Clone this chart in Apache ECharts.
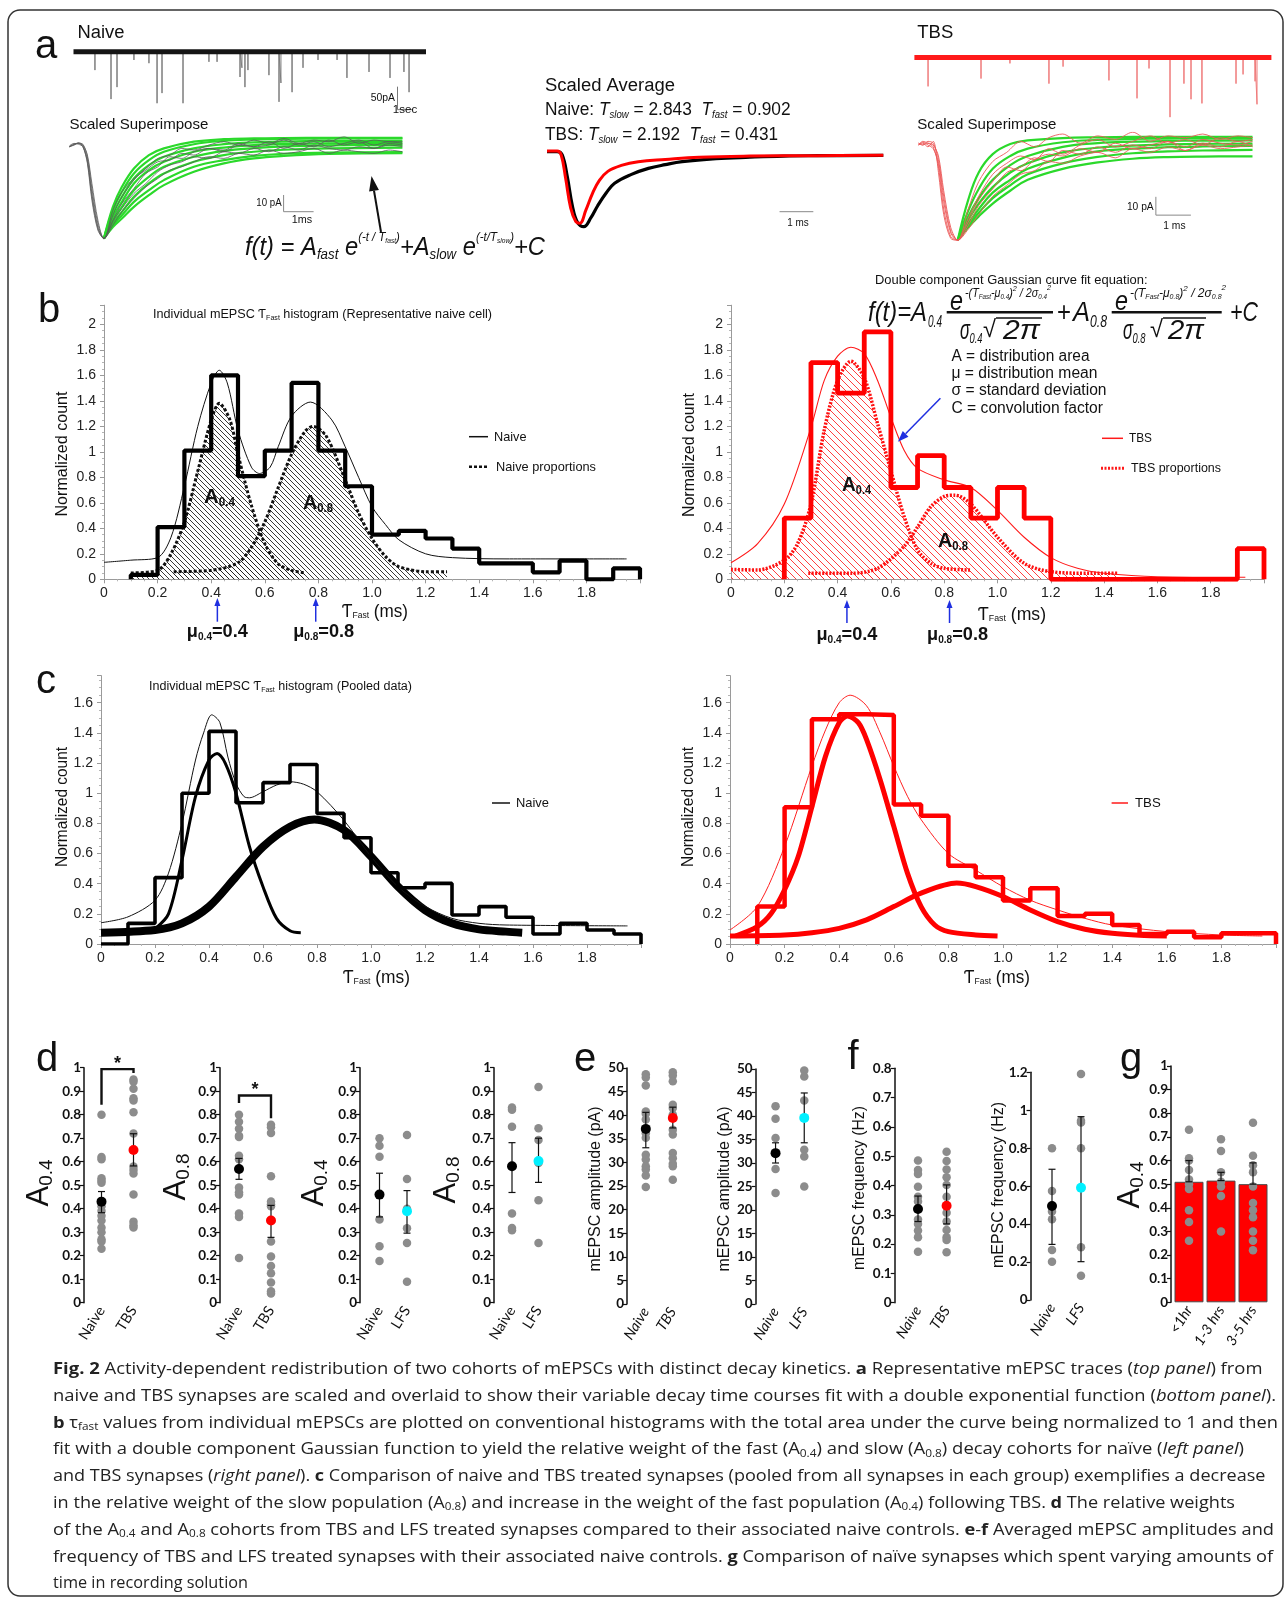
<!DOCTYPE html>
<html><head><meta charset="utf-8"><title>Fig. 2</title>
<script src="https://cdn.jsdelivr.net/npm/echarts@6/dist/echarts.min.js"></script>
<style>html,body{margin:0;padding:0;background:#fff;}#chart{width:1287px;height:1600px;}</style>
</head><body><div id="chart"></div>
<script>
// ======================= DATA =======================
// Panel a – spontaneous traces: event times (s) and amplitudes (pA)
const NAIVE_SPIKE_T = [1.43,2.5,2.9,4.03,5.03,5.57,5.9,7.3,9.03,9.57,11.1,11.23,11.43,11.63,13.03,13.7,13.83,14.57,15.3,16.3,17.57,18.23,19.7,21.1,22.03,22.37];
const NAIVE_SPIKE_A = [40,103,77,18,25,112,90,112,22,22,55,35,77,40,51,109,68,88,35,18,18,57,44,57,44,88];
const TBS_SPIKE_T = [0.91,4.44,6.37,8.97,9.91,12.97,14.84,15.64,17.04,17.97,18.44,19.17,21.44,21.91,22.71,22.84];
const TBS_SPIKE_A = [63,46,13,57,20,50,89,24,130,57,91,100,57,37,52,102];
// Panel a – scaled superimposed events (ms, pA)
const SUP_N_T = [-1.15,-1.0,-0.85,-0.7,-0.55,-0.4,-0.2,0,0.3,0.6,1,1.4,1.8,2.2,2.6,3,3.5,4,4.5,5,5.5,6,6.5,7,7.5,8,8.5,9,9.5,9.95];
const SUP_N_RAW = [
 [0,1.5,2,0.5,-8,-28,-48,-55,-41,-30,-20,-13,-7,-5,-1,-2,1,3,1,4,2,5,2,4,3,6,2,4,3,3],
 [0,1,2.5,1,-5,-22,-44,-55,-44,-34,-25,-16,-12,-6,-7,-3,-1,-3,1,0,3,-1,2,0,4,1,3,-1,2,1],
 [0.5,2,1.5,0,-10,-32,-50,-55,-38,-27,-19,-14,-9,-8,-4,-5,-1,-2,2,0,1,4,1,3,0,2,4,1,3,2],
 [0,1,2,1.5,-6,-25,-46,-55,-45,-37,-28,-22,-15,-11,-9,-6,-7,-3,-4,-1,-3,0,-2,1,-1,-2,0,-1,1,0],
 [0,1.5,2,0,-9,-30,-49,-55,-47,-39,-31,-24,-19,-14,-12,-9,-6,-7,-4,-5,-2,-4,-3,-1,-4,-2,-3,-4,-2,-3]];
const FIT_N_T = [0,0.3,0.6,1,1.5,2,3,4,5,6,7.5,9.95];
const FIT_N = [
 [-55,-36,-24,-13,-5,-1,3,4.5,5,5.2,5.3,5.3],
 [-55,-38,-27,-16,-8,-3,1.5,3.5,4.3,4.7,4.9,5],
 [-55,-40,-30,-19,-11,-6,-1,1.5,2.6,3.1,3.4,3.5],
 [-55,-42,-33,-22,-14,-9,-3,-0.5,1,1.6,2,2.2],
 [-55,-44,-36,-26,-18,-12,-6,-2.5,-0.8,0.2,0.8,1],
 [-55,-46,-39,-30,-22,-16,-9,-5,-3,-1.8,-1,-0.6],
 [-55,-47,-41,-33,-26,-20,-12,-8,-5.5,-4.2,-3.5,-3.2],
 [-55,-48,-43,-36,-29,-23,-15,-10,-7,-5.5,-4.3,-3.8]];
const SUP_T_T = [-1.12,-1.0,-0.85,-0.7,-0.55,-0.4,-0.2,0,0.3,0.6,1,1.4,1.8,2.2,2.6,3,3.5,4,4.5,5,5.5,6,6.5,7,7.5,8,8.42];
const SUP_T_RAW = [
 [0,2,1,-1,-12,-35,-50,-52,-35,-20,-9,-4,2,-1,4,6,1,5,3,7,2,5,4,6,3,5,4],
 [1,0,2,1,-8,-28,-47,-52,-40,-28,-16,-10,-6,-8,-2,-5,0,3,-1,2,5,1,3,0,4,2,3],
 [0,1,-1,2,-15,-38,-51,-52,-44,-33,-24,-15,-12,-7,-9,-3,-5,-1,-4,0,-2,2,-1,3,1,0,2],
 [0,1.5,0,-2,-10,-31,-48,-52,-46,-38,-28,-22,-16,-14,-9,-10,-6,-4,-7,-2,-4,-1,-3,0,-2,-1,0],
 [1,0,1,0,-6,-25,-45,-52,-42,-30,-20,-12,-14,-8,-5,-6,-2,-4,1,-2,0,2,-3,1,-1,2,-1]];
const FIT_T_T = [0,0.3,0.6,1,1.5,2,3,4,5,6,7,8.42];
const FIT_T = [
 [-52,-30,-15,-5,0.5,2.5,3.8,4.2,4.4,4.5,4.5,4.5],
 [-52,-36,-24,-13,-6,-2,1.5,2.8,3.3,3.5,3.6,3.6],
 [-52,-39,-29,-19,-11,-6,-1,1,1.8,2.2,2.4,2.5],
 [-52,-41,-32,-23,-15,-10,-4,-1.5,-0.3,0.3,0.6,0.8],
 [-52,-43,-35,-26,-19,-13,-7,-3.5,-2,-1.2,-0.8,-0.5],
 [-52,-44,-37,-29,-22,-16,-10,-6.5,-4.5,-3.5,-3,-2.7],
 [-52,-45,-39,-32,-25,-19,-13,-9.5,-7.5,-6.6,-6.3,-6.2]];
// Panel a – scaled averages (ms, normalised)
const AVG_BLACK_T = [0,0.3,0.45,0.6,0.75,0.9,1.09,1.3,1.5,1.75,2.0,2.5,3,3.5,4,5,6,7,8,9.95];
const AVG_BLACK_V = [0.005,0.005,-0.04,-0.33,-0.72,-0.94,-1,-0.88,-0.72,-0.55,-0.42,-0.3,-0.22,-0.17,-0.13,-0.09,-0.07,-0.055,-0.05,-0.045];
const AVG_RED_T = [0,0.3,0.42,0.55,0.7,0.85,0.97,1.15,1.35,1.55,1.8,2.2,2.7,3.5,4.5,6,8,9.95];
const AVG_RED_V = [0.012,0.012,-0.04,-0.35,-0.75,-0.93,-0.955,-0.78,-0.55,-0.38,-0.26,-0.18,-0.13,-0.1,-0.07,-0.055,-0.05,-0.045];
// scale bars [x, y of corner-top] in data units
const SB_NAIVE_TRACE = [21.6, -76];   // 50 pA, 1 s
const SB_NAIVE_SUP = [5.99, -28.9];   // 10 pA, 1 ms
const SB_AVG = [6.88, -0.8];          // 1 ms
const SB_TBS_SUP = [5.66, -28.3];     // 10 pA, 1 ms

// Panel b/c – histograms (bin width 0.1 ms)
const BIN_W = 0.1;
const B_NAIVE_START = 0.1;
const B_NAIVE_HIST = [0.034,0.41,1.01,1.60,0.81,1.01,1.54,1.01,0.73,0.35,0.38,0.32,0.24,0.125,0.125,0.055,0.146,0,0.086];
const B_TBS_START = 0.2;
const B_TBS_HIST = [0.48,1.70,1.46,1.94,0.72,0.97,0.72,0.48,0.72,0.48,0,0,0,0,0,0,0,0.24];
const C_NAIVE_START = 0;
const C_NAIVE_HIST = [0,0.137,0.44,1.0,1.41,0.937,1.07,1.19,0.866,0.705,0.473,0.373,0.402,0.192,0.248,0.177,0.066,0.137,0.093,0.066];
const C_TBS_START = 0.1;
const C_TBS_HIST = [0.248,0.907,1.49,1.523,1.519,0.925,0.851,0.519,0.443,0.288,0.37,0.186,0.2,0.126,0.067,0.082,0.044,0.071,0.071];
// Fitted curves [Tfast, normalised count]
const B_NAIVE_FIT = [[0,0.133],[0.1,0.15],[0.2,0.17],[0.25,0.33],[0.3,0.73],[0.35,1.2],[0.4,1.54],[0.43,1.64],[0.46,1.54],[0.5,1.17],[0.55,0.88],[0.58,0.83],[0.62,0.88],[0.65,1.04],[0.7,1.28],[0.77,1.39],[0.85,1.25],[0.9,1.04],[0.95,0.8],[1.0,0.57],[1.05,0.43],[1.1,0.31],[1.2,0.2],[1.3,0.17],[1.5,0.16],[1.95,0.16]];
const B_NAIVE_C04 = [[0.1,0.05],[0.2,0.07],[0.25,0.2],[0.3,0.45],[0.35,0.85],[0.4,1.25],[0.43,1.38],[0.47,1.25],[0.5,0.98],[0.55,0.58],[0.6,0.28],[0.65,0.12],[0.7,0.07],[0.75,0.05]];
const B_NAIVE_C08 = [[0.26,0.06],[0.4,0.07],[0.5,0.13],[0.55,0.25],[0.6,0.45],[0.65,0.72],[0.7,0.98],[0.75,1.16],[0.78,1.2],[0.83,1.12],[0.9,0.78],[0.95,0.52],[1.0,0.32],[1.05,0.18],[1.1,0.1],[1.2,0.06],[1.28,0.06]];
const B_TBS_FIT = [[0,0.13],[0.1,0.28],[0.2,0.59],[0.3,1.19],[0.35,1.56],[0.4,1.75],[0.45,1.82],[0.5,1.77],[0.55,1.56],[0.6,1.27],[0.65,1.01],[0.7,0.87],[0.8,0.78],[0.9,0.72],[1.0,0.54],[1.1,0.33],[1.2,0.17],[1.3,0.086],[1.4,0.047],[1.6,0.02],[1.93,0.016]];
const B_TBS_C04 = [[0,0.078],[0.1,0.073],[0.2,0.15],[0.25,0.28],[0.3,0.59],[0.35,1.17],[0.4,1.56],[0.45,1.71],[0.5,1.58],[0.55,1.22],[0.6,0.85],[0.65,0.49],[0.7,0.23],[0.75,0.125],[0.8,0.086],[0.9,0.073]];
const B_TBS_C08 = [[0.29,0.047],[0.45,0.047],[0.55,0.086],[0.65,0.26],[0.7,0.41],[0.75,0.57],[0.8,0.65],[0.84,0.66],[0.9,0.59],[1.0,0.33],[1.1,0.125],[1.2,0.06],[1.35,0.047],[1.45,0.047]];
const C_NAIVE_FIT = [[0,0.141],[0.1,0.18],[0.2,0.29],[0.25,0.47],[0.3,0.8],[0.35,1.22],[0.38,1.4],[0.41,1.52],[0.44,1.47],[0.47,1.24],[0.5,1.065],[0.53,0.977],[0.55,0.97],[0.6,1.01],[0.65,1.054],[0.7,1.076],[0.75,1.06],[0.8,1.01],[0.9,0.82],[1.0,0.58],[1.1,0.38],[1.2,0.25],[1.3,0.17],[1.4,0.137],[1.5,0.126],[1.95,0.12]];
const C_NAIVE_C04 = [[0.2,0.1],[0.25,0.2],[0.3,0.557],[0.35,0.977],[0.4,1.22],[0.43,1.264],[0.46,1.2],[0.5,1.0],[0.55,0.645],[0.6,0.38],[0.65,0.17],[0.7,0.088],[0.74,0.075]];
const C_NAIVE_C08 = [[0,0.075],[0.2,0.093],[0.3,0.137],[0.4,0.248],[0.5,0.446],[0.6,0.645],[0.7,0.778],[0.79,0.826],[0.9,0.756],[1.0,0.58],[1.1,0.38],[1.2,0.225],[1.3,0.137],[1.4,0.097],[1.5,0.082],[1.56,0.075]];
const C_TBS_FIT = [[0,0.093],[0.1,0.248],[0.2,0.647],[0.3,1.18],[0.35,1.42],[0.4,1.6],[0.44,1.65],[0.5,1.58],[0.55,1.4],[0.6,1.18],[0.65,0.98],[0.7,0.825],[0.8,0.6],[0.9,0.49],[1.0,0.38],[1.1,0.29],[1.2,0.226],[1.3,0.17],[1.4,0.126],[1.6,0.082],[1.8,0.06],[1.95,0.053]];
const C_TBS_C04 = [[0.02,0.053],[0.1,0.115],[0.15,0.2],[0.2,0.36],[0.25,0.58],[0.3,0.91],[0.35,1.246],[0.4,1.468],[0.43,1.512],[0.47,1.468],[0.5,1.357],[0.55,1.09],[0.6,0.78],[0.65,0.47],[0.7,0.248],[0.75,0.126],[0.8,0.082],[0.9,0.06],[0.98,0.053]];
const C_TBS_C08 = [[0,0.053],[0.2,0.06],[0.3,0.075],[0.4,0.104],[0.5,0.16],[0.6,0.248],[0.7,0.337],[0.83,0.404],[0.9,0.381],[1.0,0.315],[1.1,0.226],[1.2,0.149],[1.3,0.098],[1.4,0.071],[1.5,0.058],[1.6,0.053]];
const MU_B_NAIVE = [0.423, 0.79];
const MU_B_TBS = [0.435, 0.82];

// Panels d-g
const CATS_TBS = ['Naive','TBS'];
const CATS_LFS = ['Naive','LFS'];
const D1_NAIVE = [0.80,0.62,0.61,0.53,0.52,0.51,0.41,0.39,0.37,0.35,0.32,0.30,0.27,0.26,0.23];
const D1_TBS = [0.95,0.94,0.91,0.87,0.86,0.81,0.72,0.58,0.565,0.55,0.46,0.345,0.33,0.32];
const D1_MEAN = [0.43,0.65];  const D1_ERR = [[0.383,0.473],[0.582,0.719]];
const D1_BRACKET = [0.842,0.994,0.977];
const D2_NAIVE = [0.80,0.77,0.74,0.71,0.705,0.625,0.61,0.49,0.47,0.46,0.38,0.365,0.19];
const D2_TBS = [0.757,0.747,0.722,0.538,0.431,0.419,0.41,0.26,0.197,0.156,0.125,0.086,0.049,0.039];
const D2_MEAN = [0.569,0.35]; const D2_ERR = [[0.525,0.614],[0.278,0.414]];
const D2_BRACKET = [0.85,0.882,0.785];
const D3_NAIVE = [0.70,0.668,0.621,0.354,0.24,0.177];
const D3_LFS = [0.714,0.526,0.40,0.317,0.254,0.089];
const D3_MEAN = [0.46,0.389]; const D3_ERR = [[0.365,0.551],[0.296,0.477]];
const D4_NAIVE = [0.831,0.821,0.749,0.38,0.318,0.308];
const D4_LFS = [0.918,0.742,0.692,0.595,0.436,0.254];
const D4_MEAN = [0.581,0.603]; const D4_ERR = [[0.469,0.681],[0.512,0.70]];
const E1_NAIVE = [48.7,48.0,46.3,40.8,40.3,39.1,36.2,35.2,31.6,30.6,29.2,28.5,27.2,24.8];
const E1_TBS = [49.1,48.4,47.2,42.2,41.5,40.1,36.9,35.9,32.0,30.9,29.7,29.2,26.3];
const E1_MEAN = [37.1,39.4]; const E1_ERR = [[33.1,40.6],[37.3,41.7]];
const E2_NAIVE = [42.1,39.4,35.3,28.7,23.6];
const E2_LFS = [49.7,48.4,43.3,32.8,31.4,25.0];
const E2_MEAN = [32.1,39.6]; const E2_ERR = [[30.0,34.3],[34.3,44.9]];
const F1_NAIVE = [0.485,0.453,0.439,0.396,0.362,0.345,0.32,0.284,0.269,0.246,0.223,0.174];
const F1_TBS = [0.515,0.484,0.455,0.428,0.402,0.362,0.307,0.277,0.248,0.223,0.214,0.172];
const F1_MEAN = [0.32,0.331]; const F1_ERR = [[0.277,0.364],[0.269,0.402]];
const F2_NAIVE = [0.80,0.575,0.466,0.425,0.264,0.202];
const F2_LFS = [1.191,0.945,0.935,0.80,0.278,0.128];
const F2_MEAN = [0.495,0.592]; const F2_ERR = [[0.293,0.689],[0.202,0.966]];
const G_CATS = ['<1hr','1-3 hrs','3-5 hrs'];
const G_MEAN = [0.51,0.515,0.50];
const G_ERR_HI = [0.60,0.55,0.59];
const G_DOTS = [[0.73,0.61,0.60,0.56,0.52,0.50,0.48,0.39,0.34,0.26],[0.69,0.64,0.55,0.51,0.49,0.45,0.30],[0.76,0.62,0.58,0.55,0.49,0.42,0.39,0.36,0.30,0.26,0.22]];

// Caption
const CAPTION = [
 [['Fig. 2','b'],[' Activity-dependent redistribution of two cohorts of mEPSCs with distinct decay kinetics. ','n'],['a','b'],[' Representative mEPSC traces (','n'],['top panel','i'],[') from','n']],
 [['naive and TBS synapses are scaled and overlaid to show their variable decay time courses fit with a double exponential function (','n'],['bottom panel','i'],[').','n']],
 [['b','b'],[' τ','n'],['fast','s'],[' values from individual mEPSCs are plotted on conventional histograms with the total area under the curve being normalized to 1 and then','n']],
 [['fit with a double component Gaussian function to yield the relative weight of the fast (A','n'],['0.4','s'],[') and slow (A','n'],['0.8','s'],[') decay cohorts for naïve (','n'],['left panel','i'],[')','n']],
 [['and TBS synapses (','n'],['right panel','i'],['). ','n'],['c','b'],[' Comparison of naive and TBS treated synapses (pooled from all synapses in each group) exemplifies a decrease','n']],
 [['in the relative weight of the slow population (A','n'],['0.8','s'],[') and increase in the weight of the fast population (A','n'],['0.4','s'],[') following TBS. ','n'],['d','b'],[' The relative weights','n']],
 [['of the A','n'],['0.4','s'],[' and A','n'],['0.8','s'],[' cohorts from TBS and LFS treated synapses compared to their associated naive controls. ','n'],['e','b'],['-','n'],['f','b'],[' Averaged mEPSC amplitudes and','n']],
 [['frequency of TBS and LFS treated synapses with their associated naive controls. ','n'],['g','b'],[' Comparison of naïve synapses which spent varying amounts of','n']],
 [['time in recording solution','n']]
];

// ======================= HELPERS =======================
const FONT = '"Liberation Sans", Arial, sans-serif';
const LATO = 'Lato, "Liberation Sans", sans-serif';
const CAPF = '"Open Sans", "Liberation Sans", sans-serif';
const mctx = document.createElement('canvas').getContext('2d');
function fstr(size, o) { return (o.i ? 'italic ' : '') + (o.b ? 'bold ' : '') + size + 'px ' + (o.f || FONT); }
function mw(text, size, o) { mctx.font = fstr(size, o || {}); return mctx.measureText(text).width; }
const zip = (xs, ys) => xs.map((x, k) => [x, ys[k]]);

const grids = [], xAxes = [], yAxes = [], series = [];
function addGrid(l, t, w, h, xa, ya) {
  const gi = grids.length;
  grids.push({left: l, top: t, width: w, height: h, containLabel: false, outerBoundsMode: 'none'});
  xa.gridIndex = gi; ya.gridIndex = gi; xAxes.push(xa); yAxes.push(ya); return gi;
}
function hid(min, max) { return {type: 'value', min, max, show: false, splitLine: {show: false}}; }
function line(gi, data, color, width, extra) {
  series.push(Object.assign({type: 'line', xAxisIndex: gi, yAxisIndex: gi, data, symbol: 'none', showSymbol: false,
    lineStyle: {color, width}, silent: true, animation: false, z: 3}, extra || {}));
}
function spikes(ts, as) { const d = []; ts.forEach((t, k) => { d.push([t, 0], [t, -as[k]], [t, 0]); }); return d; }
function histPts(start, vals) {
  const p = [[start, 0]];
  vals.forEach((v, k) => { p.push([start + k * BIN_W, v], [start + (k + 1) * BIN_W, v]); });
  p.push([start + vals.length * BIN_W, 0]); return p;
}
function hatch(color, s, lw) {
  const c = document.createElement('canvas'); c.width = s; c.height = s;
  const x = c.getContext('2d'); x.strokeStyle = color; x.lineWidth = lw; x.beginPath();
  [-s, 0, s].forEach(k => { x.moveTo(k, 0); x.lineTo(k + s, s); });
  x.stroke(); return c;
}
function axStyle() {
  return {axisLine: {show: true, lineStyle: {color: '#9a9a9a', width: 1}},
    axisTick: {show: true, length: 4, lineStyle: {color: '#9a9a9a'}},
    minorTick: {show: true, splitNumber: 4, length: 2, lineStyle: {color: '#b5b5b5'}},
    splitLine: {show: false}, minorSplitLine: {show: false}};
}
function histGrid(l, t, w, h, ymax) {
  const xa = Object.assign({type: 'value', min: 0, max: 2, interval: 0.2,
    axisLabel: {fontFamily: FONT, fontSize: 14, color: '#222', margin: 7,
      formatter: v => Math.abs(v) < 1e-9 ? '0' : (v > 1.95 ? '' : v.toFixed(1))}}, axStyle());
  const ya = Object.assign({type: 'value', min: 0, max: ymax, interval: 0.2,
    axisLabel: {fontFamily: FONT, fontSize: 14, color: '#222', margin: 8,
      formatter: v => Math.abs(v * 5 - Math.round(v * 5)) > 1e-6 ? '' : String(+v.toFixed(1))}}, axStyle());
  return addGrid(l, t, w, h, xa, ya);
}
const DOT = '#8c8c8c';
function errSeries(gi, errs, capHalf) {
  series.push({type: 'custom', xAxisIndex: gi, yAxisIndex: gi, silent: true, animation: false, z: 5,
    data: errs.map((e, i) => [i, e[0], e[1]]),
    renderItem: (params, api) => {
      const a = api.coord([api.value(0), api.value(1)]), b = api.coord([api.value(0), api.value(2)]);
      const st = {stroke: '#111', lineWidth: 1.2};
      return {type: 'group', children: [
        {type: 'line', shape: {x1: a[0], y1: a[1], x2: b[0], y2: b[1]}, style: st},
        {type: 'line', shape: {x1: a[0] - capHalf, y1: a[1], x2: a[0] + capHalf, y2: a[1]}, style: st},
        {type: 'line', shape: {x1: b[0] - capHalf, y1: b[1], x2: b[0] + capHalf, y2: b[1]}, style: st}]};
    }});
}
function dotPanel(c) {
  const gi = addGrid(c.left, c.top, c.width, c.height,
    {type: 'category', data: c.cats, boundaryGap: true, axisLine: {show: false}, axisTick: {show: false}, splitLine: {show: false},
     axisLabel: {rotate: 58, interval: 0, fontFamily: LATO, fontSize: 14.5, fontStyle: c.italic ? 'italic' : 'normal', color: '#111', margin: 5}},
    {type: 'value', min: 0, max: c.ymax, interval: c.interval, offset: c.offset,
     axisLine: {show: true, lineStyle: {color: '#111', width: 1.5}}, axisTick: {show: true, length: 4, lineStyle: {color: '#111', width: 1.2}},
     splitLine: {show: false}, axisLabel: {fontFamily: LATO, fontWeight: 'bold', fontSize: 13.5, color: '#111', margin: 3,
       formatter: v => String(+v.toFixed(2))}});
  if (c.bars) series.push({type: 'bar', xAxisIndex: gi, yAxisIndex: gi, data: c.bars, barWidth: c.barWidth, silent: true, animation: false, z: 2,
    itemStyle: {color: '#ff0000', borderColor: '#4a4a4a', borderWidth: 1}});
  c.groups.forEach((g, i) => series.push({type: 'scatter', xAxisIndex: gi, yAxisIndex: gi, data: g.map(v => [i, v]),
    symbolSize: 8.5, itemStyle: {color: DOT, opacity: 1}, silent: true, animation: false, z: 3}));
  errSeries(gi, c.errs, 3.5);
  if (c.means) c.means.forEach((m, i) => series.push({type: 'scatter', xAxisIndex: gi, yAxisIndex: gi, data: [[i, m]],
    symbolSize: 10, itemStyle: {color: c.meanColors[i], opacity: 1}, silent: true, animation: false, z: 6}));
  if (c.bracket) {
    const br = c.bracket;
    series.push({type: 'custom', xAxisIndex: gi, yAxisIndex: gi, silent: true, animation: false, z: 6, data: [[0, br[1]]],
      renderItem: (params, api) => {
        const a = api.coord([0, br[0]]), b = api.coord([0, br[1]]), cc = api.coord([1, br[1]]), d = api.coord([1, br[2]]);
        return {type: 'group', children: [
          {type: 'polyline', shape: {points: [a, b, cc, d]}, style: {stroke: '#111', lineWidth: 2.4, fill: 'none'}},
          {type: 'text', x: (b[0] + cc[0]) / 2, y: b[1] - 5, style: {text: '*', font: 'bold 18px ' + FONT, fill: '#111', textAlign: 'center', textVerticalAlign: 'middle'}}]};
      }});
  }
  return gi;
}

// ======================= PANEL a =======================
const gA1 = addGrid(73.5, 44.8, 352.5, 66.7, hid(0, 23.5), hid(-130, 15));
line(gA1, spikes(NAIVE_SPIKE_T, NAIVE_SPIKE_A), '#7d7d7d', 1);
line(gA1, [[0, 0], [23.5, 0]], '#151515', 5, {z: 4});
line(gA1, [[SB_NAIVE_TRACE[0], SB_NAIVE_TRACE[1]], [SB_NAIVE_TRACE[0], SB_NAIVE_TRACE[1] - 50], [SB_NAIVE_TRACE[0] + 1, SB_NAIVE_TRACE[1] - 50]], '#777', 1);
const gA2 = addGrid(914.4, 50.5, 357, 66.7, hid(0, 23.8), hid(-130, 15));
line(gA2, spikes(TBS_SPIKE_T, TBS_SPIKE_A), '#ef7a7a', 1);
line(gA2, [[0, 0], [23.8, 0]], '#ff1a1a', 5, {z: 4});
const gA3 = addGrid(69.4, 136.7, 333, 106.9, hid(-1.15, 9.95), hid(-58, 6));
FIT_N.forEach(f => line(gA3, zip(FIT_N_T, f), '#2bd92b', 2.2, {smooth: 0.4, z: 3}));
SUP_N_RAW.forEach(r => line(gA3, zip(SUP_N_T, r), '#5a5a5a', 0.8, {smooth: 0.3, z: 4}));
line(gA3, [[SB_NAIVE_SUP[0], SB_NAIVE_SUP[1]], [SB_NAIVE_SUP[0], SB_NAIVE_SUP[1] - 10], [SB_NAIVE_SUP[0] + 1, SB_NAIVE_SUP[1] - 10]], '#888', 1);
const gA4 = addGrid(547, 144.5, 336.3, 89.6, hid(0, 9.95), hid(-1.1, 0.1));
line(gA4, zip(AVG_BLACK_T, AVG_BLACK_V), '#000', 3.2, {smooth: 0.4});
line(gA4, zip(AVG_RED_T, AVG_RED_V), '#ff0000', 3, {smooth: 0.4, z: 4});
line(gA4, [[SB_AVG[0], SB_AVG[1]], [SB_AVG[0] + 1, SB_AVG[1]]], '#888', 1);
const gA5 = addGrid(918.5, 132.2, 334, 113.5, hid(-1.12, 8.42), hid(-55, 7));
FIT_T.forEach(f => line(gA5, zip(FIT_T_T, f), '#2bd92b', 2.2, {smooth: 0.4, z: 3}));
SUP_T_RAW.forEach(r => line(gA5, zip(SUP_T_T, r), '#ec5a5a', 0.9, {smooth: 0.3, z: 4}));
line(gA5, [[SB_TBS_SUP[0], SB_TBS_SUP[1]], [SB_TBS_SUP[0], SB_TBS_SUP[1] - 10], [SB_TBS_SUP[0] + 1, SB_TBS_SUP[1] - 10]], '#888', 1);

// ======================= PANEL b =======================
const HATCH_K = {image: hatch('#222', 5, 0.9), repeat: 'repeat'};
const HATCH_R = {image: hatch('#ff2a2a', 7, 0.9), repeat: 'repeat'};
const gB1 = histGrid(104, 305.2, 536, 274.1, 2.15);
line(gB1, B_NAIVE_C04, '#111', 3, {smooth: 0.3, lineStyle: {color: '#111', width: 3, type: [3, 2]}, areaStyle: {color: HATCH_K, opacity: 1, origin: 'start'}, z: 2});
line(gB1, B_NAIVE_C08, '#111', 3, {smooth: 0.3, lineStyle: {color: '#111', width: 3, type: [3, 2]}, areaStyle: {color: HATCH_K, opacity: 1, origin: 'start'}, z: 2});
line(gB1, B_NAIVE_FIT, '#111', 1, {smooth: 0.3, z: 3});
line(gB1, histPts(B_NAIVE_START, B_NAIVE_HIST), '#000', 4.2, {z: 4});
const gB2 = histGrid(731, 305.2, 533, 274.1, 2.15);
line(gB2, B_TBS_C04, '#f00', 3, {smooth: 0.3, lineStyle: {color: '#ff1010', width: 3.5, type: [2, 1.5]}, areaStyle: {color: HATCH_R, opacity: 1, origin: 'start'}, z: 2});
line(gB2, B_TBS_C08, '#f00', 3, {smooth: 0.3, lineStyle: {color: '#ff1010', width: 3.5, type: [2, 1.5]}, areaStyle: {color: HATCH_R, opacity: 1, origin: 'start'}, z: 2});
line(gB2, B_TBS_FIT, '#ff1a1a', 1.1, {smooth: 0.3, z: 3});
line(gB2, histPts(B_TBS_START, B_TBS_HIST), '#ff0000', 4.8, {z: 4});

// ======================= PANEL c =======================
const gC1 = histGrid(101, 675.6, 540, 268.4, 1.78);
line(gC1, C_NAIVE_C08, '#000', 8, {smooth: 0.3, z: 2});
line(gC1, C_NAIVE_C04, '#000', 3, {smooth: 0.3, z: 2});
line(gC1, C_NAIVE_FIT, '#111', 1, {smooth: 0.3, z: 3});
line(gC1, histPts(C_NAIVE_START, C_NAIVE_HIST), '#000', 3.6, {z: 4});
const gC2 = histGrid(730, 675.6, 546, 268.4, 1.78);
line(gC2, C_TBS_C08, '#ff0000', 5, {smooth: 0.3, z: 2});
line(gC2, C_TBS_C04, '#ff0000', 5, {smooth: 0.3, z: 2});
line(gC2, C_TBS_FIT, '#ff2020', 1, {smooth: 0.3, z: 3});
line(gC2, histPts(C_TBS_START, C_TBS_HIST), '#ff0000', 4.5, {z: 4});

// ======================= PANELS d-g =======================
const BLK = '#000', RED = '#ff0000', CYAN = '#00f0ff';
dotPanel({left: 85.5, top: 1067.7, width: 64, height: 235, offset: 1.5, cats: CATS_TBS, ymax: 1, interval: 0.1, groups: [D1_NAIVE, D1_TBS], means: D1_MEAN, errs: D1_ERR, meanColors: [BLK, RED], bracket: D1_BRACKET});
dotPanel({left: 223, top: 1067.7, width: 64, height: 235, offset: 3, cats: CATS_TBS, ymax: 1, interval: 0.1, groups: [D2_NAIVE, D2_TBS], means: D2_MEAN, errs: D2_ERR, meanColors: [BLK, RED], bracket: D2_BRACKET});
dotPanel({left: 365.75, top: 1067.7, width: 55, height: 235, offset: 5.75, cats: CATS_LFS, ymax: 1, interval: 0.1, groups: [D3_NAIVE, D3_LFS], means: D3_MEAN, errs: D3_ERR, meanColors: [BLK, CYAN]});
dotPanel({left: 498.75, top: 1067.7, width: 53, height: 235, offset: 4.75, cats: CATS_LFS, ymax: 1, interval: 0.1, groups: [D4_NAIVE, D4_LFS], means: D4_MEAN, errs: D4_ERR, meanColors: [BLK, CYAN]});
dotPanel({left: 632.3, top: 1068, width: 54, height: 236, offset: 5.3, cats: CATS_TBS, ymax: 50, interval: 5, italic: true, groups: [E1_NAIVE, E1_TBS], means: E1_MEAN, errs: E1_ERR, meanColors: [BLK, RED]});
dotPanel({left: 761.2, top: 1069, width: 57.4, height: 235, offset: 5.6, cats: CATS_LFS, ymax: 50, interval: 5, italic: true, groups: [E2_NAIVE, E2_LFS], means: E2_MEAN, errs: E2_ERR, meanColors: [BLK, CYAN]});
dotPanel({left: 903.7, top: 1068.3, width: 57.2, height: 234.4, offset: 9, cats: CATS_TBS, ymax: 0.8, interval: 0.1, italic: true, groups: [F1_NAIVE, F1_TBS], means: F1_MEAN, errs: F1_ERR, meanColors: [BLK, RED]});
dotPanel({left: 1037.5, top: 1072.3, width: 58, height: 227.7, offset: 7, cats: CATS_LFS, ymax: 1.2, interval: 0.2, italic: true, groups: [F2_NAIVE, F2_LFS], means: F2_MEAN, errs: F2_ERR, meanColors: [BLK, CYAN]});
dotPanel({left: 1173, top: 1066, width: 96, height: 236.3, offset: 2, cats: G_CATS, ymax: 1, interval: 0.1, italic: true, groups: G_DOTS, errs: G_MEAN.map((m, i) => [m, G_ERR_HI[i]]), bars: G_MEAN, barWidth: 29});

// ======================= RENDER =======================
const chart = echarts.init(document.getElementById('chart'), null, {renderer: 'canvas'});
chart.setOption({animation: false, textStyle: {fontFamily: FONT}, grid: grids, xAxis: xAxes, yAxis: yAxes, series: series});

// ---- annotations (text, arrows, legends) ----
const G = [];
function T(x, y, text, size, o) {
  o = o || {}; const sx = o.w ? o.w / mw(text, size, o) : (o.sx || 1);
  G.push({type: 'text', x, y, rotation: o.rot || 0, scaleX: sx, z: 100, silent: true,
    style: {text, font: fstr(size, o), fill: o.fill || '#111', textAlign: o.align || 'left', textVerticalAlign: 'middle'}});
}
function S(x, y, parts, o) {
  o = o || {};
  const ws = parts.map(p => mw(p[0], p[1], Object.assign({f: o.f}, p[2] || {})));
  const total = ws.reduce((a, b) => a + b, 0);
  const sx = o.w ? o.w / total : (o.sx || 1);
  let cx = o.align === 'center' ? -total / 2 : (o.align === 'right' ? -total : 0);
  const children = parts.map((p, k) => {
    const po = Object.assign({f: o.f}, p[2] || {});
    const el = {type: 'text', x: cx, y: po.dy || 0, z: 100, silent: true,
      style: {text: p[0], font: fstr(p[1], po), fill: po.fill || o.fill || '#111', textAlign: 'left', textVerticalAlign: 'middle'}};
    cx += ws[k]; return el;
  });
  G.push({type: 'group', x, y, rotation: o.rot || 0, scaleX: sx, z: 100, silent: true, children});
  return total;
}
function L(x1, y1, x2, y2, color, lw, dash) {
  G.push({type: 'line', shape: {x1, y1, x2, y2}, style: {stroke: color, lineWidth: lw, lineDash: dash || null}, z: 100, silent: true});
}
function ARROW(x1, y1, x2, y2, color, lw, hl, hw) {
  const ang = Math.atan2(y2 - y1, x2 - x1), bx = x2 - hl * Math.cos(ang), by = y2 - hl * Math.sin(ang);
  const px = -Math.sin(ang) * hw / 2, py = Math.cos(ang) * hw / 2;
  L(x1, y1, bx, by, color, lw);
  G.push({type: 'polygon', shape: {points: [[x2, y2], [bx + px, by + py], [bx - px, by - py]]}, style: {fill: color}, z: 100, silent: true});
}
const R90 = Math.PI / 2;

// frame
G.push({type: 'rect', shape: {x: 8, y: 10, width: 1275, height: 1586, r: 12}, style: {fill: 'none', stroke: '#333', lineWidth: 1.5}, z: 0, silent: true});
// panel letters
T(46, 47, 'a', 40, {align: 'center'}); T(49, 311, 'b', 40, {align: 'center'}); T(46, 682, 'c', 40, {align: 'center'});
T(47, 1060, 'd', 40, {align: 'center'}); T(585, 1060, 'e', 40, {align: 'center'}); T(853, 1058, 'f', 40, {align: 'center'});
T(1131, 1060, 'g', 40, {align: 'center'});

// panel a texts
T(77.5, 33.5, 'Naive', 18, {w: 47}); T(917.3, 33.5, 'TBS', 18, {w: 36});
T(395, 98, '50pA', 11, {align: 'right', w: 24.3}); T(405, 110, '1sec', 11, {align: 'center', w: 24.3});
T(69.4, 125, 'Scaled Superimpose', 15, {w: 139}); T(917.3, 125, 'Scaled Superimpose', 15, {w: 139});
T(281.6, 203, '10 pA', 11, {align: 'right', w: 25.3}); T(302, 220, '1ms', 11, {align: 'center', w: 20.4});
T(798, 222.7, '1 ms', 11, {align: 'center', w: 21.5});
T(1153.7, 207.3, '10 pA', 11, {align: 'right', w: 26.8}); T(1174.4, 226, '1 ms', 11, {align: 'center', w: 22.3});
T(545, 86, 'Scaled Average', 18, {w: 130});
S(545, 110, [['Naive: ', 18], ['T', 18, {i: 1}], ['slow', 10, {i: 1, dy: 5}], [' = 2.843  ', 18], ['T', 18, {i: 1}], ['fast', 10, {i: 1, dy: 5}], [' = 0.902', 18]], {w: 245.6});
S(545, 135, [['TBS: ', 18], ['T', 18, {i: 1}], ['slow', 10, {i: 1, dy: 5}], [' = 2.192  ', 18], ['T', 18, {i: 1}], ['fast', 10, {i: 1, dy: 5}], [' = 0.431', 18]], {w: 233});
S(245, 248, [['f(t) = A', 25, {i: 1}], ['fast', 14, {i: 1, dy: 7}], [' e', 25, {i: 1}], ['(-t / ', 12, {i: 1, dy: -10}], ['T', 12, {i: 1, dy: -10}], ['fast', 7, {i: 1, dy: -7}], [')', 12, {i: 1, dy: -10}],
  ['+A', 25, {i: 1}], ['slow', 14, {i: 1, dy: 7}], [' e', 25, {i: 1}], ['(-t/', 12, {i: 1, dy: -10}], ['T', 12, {i: 1, dy: -10}], ['slow', 7, {i: 1, dy: -7}], [')', 12, {i: 1, dy: -10}], ['+C', 25, {i: 1}]], {w: 300});
ARROW(381, 232, 371.5, 176, '#111', 2, 15, 10);

// panel b texts
S(153, 315, [['Individual mEPSC ', 12.5], ['Ƭ', 12.5], ['Fast', 7, {dy: 3}], [' histogram (Representative naive cell)', 12.5]], {w: 339});
T(875, 280, 'Double component Gaussian curve fit equation:', 13, {w: 272.5});
// equation
T(868, 313, 'f(t)=A', 27, {i: 1, w: 59}); T(928, 323, '0.4', 16, {i: 1, w: 14});
L(946.7, 312.3, 1053, 312.3, '#111', 2.6);
T(950, 302.5, 'e', 28, {i: 1, w: 13});
S(965, 294, [['-(', 12, {i: 1}], ['T', 12, {i: 1}], ['Fast', 7, {i: 1, dy: 3}], ['-μ', 12, {i: 1}], ['0.4', 7, {i: 1, dy: 3}], [')', 12, {i: 1}], ['2', 8, {i: 1, dy: -5}], [' / 2σ', 12, {i: 1}], ['0.4', 7, {i: 1, dy: 3}], ['2', 8, {i: 1, dy: -6}]], {w: 86});
T(960, 331, 'σ', 28, {i: 1, w: 10}); T(969.5, 339, '0.4', 15, {i: 1, w: 13}); T(983, 330, '√', 24, {w: 13});
L(996, 318, 1042, 318, '#111', 1.6); T(1003, 331, '2π', 28, {i: 1, w: 37});
T(1057, 313, '+', 28, {w: 14}); T(1073, 313, 'A', 28, {i: 1, w: 17}); T(1090, 323, '0.8', 16, {i: 1, w: 17});
L(1111.7, 312.3, 1221.7, 312.3, '#111', 2.6);
T(1115, 302.5, 'e', 28, {i: 1, w: 13});
S(1130, 294, [['-(', 12, {i: 1}], ['T', 12, {i: 1}], ['Fast', 7, {i: 1, dy: 3}], ['-μ', 12, {i: 1}], ['0.8', 7, {i: 1, dy: 3}], [')', 12, {i: 1}], ['2', 8, {i: 1, dy: -5}], [' / 2σ', 12, {i: 1}], ['0.8', 7, {i: 1, dy: 3}], ['2', 8, {i: 1, dy: -6}]], {w: 96});
T(1123, 331, 'σ', 28, {i: 1, w: 10}); T(1132.5, 339, '0.8', 15, {i: 1, w: 13}); T(1150, 330, '√', 24, {w: 13});
L(1163, 318, 1206, 318, '#111', 1.6); T(1168, 331, '2π', 28, {i: 1, w: 36});
T(1230, 313, '+C', 28, {i: 1, w: 28});
T(951.5, 356.7, 'A = distribution area', 16, {w: 138});
T(951.5, 374, 'μ = distribution mean', 16, {w: 146});
T(951.5, 391, 'σ = standard deviation', 16, {w: 155});
T(951.5, 408.3, 'C = convolution factor', 16, {w: 151.5});
ARROW(940.4, 398.3, 897.9, 441.7, '#1f2fe0', 1.5, 11, 8);
// legends b
L(469, 436.7, 488, 436.7, '#111', 1.5); T(494, 437, 'Naive', 13, {w: 32.5});
L(469, 466.7, 489, 466.7, '#111', 2.5, [3, 2]); T(496, 467, 'Naive proportions', 13, {w: 100});
L(1102, 438.3, 1123, 438.3, '#ff1a1a', 1.5); T(1129, 438.5, 'TBS', 13, {w: 23});
L(1101, 468.3, 1124, 468.3, '#ff1a1a', 3, [2, 1.5]); T(1131, 468.5, 'TBS proportions', 13, {w: 90});
// A labels
S(204, 497, [['A', 21, {b: 1}], ['0.4', 12, {b: 1, dy: 6}]], {w: 31});
S(303, 503, [['A', 21, {b: 1}], ['0.8', 12, {b: 1, dy: 6}]], {w: 30});
S(842, 485, [['A', 21, {b: 1}], ['0.4', 12, {b: 1, dy: 6}]], {w: 29});
S(938, 541, [['A', 21, {b: 1}], ['0.8', 12, {b: 1, dy: 6}]], {w: 30});
// axis names b/c
S(342, 612, [['Ƭ', 18], ['Fast', 9, {dy: 4}], [' (ms)', 18]], {w: 66});
S(978, 615, [['Ƭ', 18], ['Fast', 9, {dy: 4}], [' (ms)', 18]], {w: 68});
S(343, 978, [['Ƭ', 18], ['Fast', 9, {dy: 4}], [' (ms)', 18]], {w: 67});
S(964, 978, [['Ƭ', 18], ['Fast', 9, {dy: 4}], [' (ms)', 18]], {w: 66});
T(63, 454, 'Normalized count', 16, {rot: R90, align: 'center', w: 125});
T(689.5, 455, 'Normalized count', 16, {rot: R90, align: 'center', w: 124});
T(63, 807, 'Normalized count', 16, {rot: R90, align: 'center', w: 120});
T(688.7, 807, 'Normalized count', 16, {rot: R90, align: 'center', w: 120});
// mu arrows and labels (x from the axis scale)
const px = (gi, v) => chart.convertToPixel({xAxisIndex: gi}, v);
[[gB1, MU_B_NAIVE, 621.7, 598, 632], [gB2, MU_B_TBS, 623, 600, 635]].forEach(([gi, mus, y1, y2, ly]) => {
  mus.forEach((m, k) => {
    const x = px(gi, m);
    ARROW(x, y1, x, y2, '#1f2fe0', 1.5, 8, 6);
    S(x + (k === 0 ? 0 : 8), ly, [['μ', 18, {b: 1}], [k === 0 ? '0.4' : '0.8', 10, {b: 1, dy: 5}], [k === 0 ? '=0.4' : '=0.8', 18, {b: 1}]], {w: 61, align: 'center'});
  });
});
// panel c texts
S(149, 686.7, [['Individual mEPSC ', 12.5], ['Ƭ', 12.5], ['Fast', 7, {dy: 3}], [' histogram (Pooled data)', 12.5]], {w: 263});
L(492, 803, 510, 803, '#111', 1.5); T(516, 803.5, 'Naive', 13, {w: 33});
L(1111.6, 803, 1128, 803, '#ff1a1a', 1.5); T(1135, 803.5, 'TBS', 13, {w: 25.7});

// d-g y titles
S(39, 1183, [['A', 31], ['0.4', 19, {dy: 8}]], {rot: R90, align: 'center'});
S(176, 1177, [['A', 31], ['0.8', 19, {dy: 8}]], {rot: R90, align: 'center'});
S(314, 1183, [['A', 31], ['0.4', 19, {dy: 8}]], {rot: R90, align: 'center'});
S(446, 1180, [['A', 31], ['0.8', 19, {dy: 8}]], {rot: R90, align: 'center'});
S(1130, 1185, [['A', 31], ['0.4', 19, {dy: 8}]], {rot: R90, align: 'center'});
T(595, 1189, 'mEPSC amplitude (pA)', 17, {rot: R90, align: 'center', w: 165});
T(724.6, 1189, 'mEPSC amplitude (pA)', 17, {rot: R90, align: 'center', w: 165});
T(859, 1188, 'mEPSC frequency (Hz)', 17, {rot: R90, align: 'center', w: 164});
T(998, 1185, 'mEPSC frequency (Hz)', 17, {rot: R90, align: 'center', w: 166});

// caption (one line per entry, each fitted to the reference line width)
const CAP_X = 53, CAP_Y0 = 1369.6, CAP_DY = 26.8;
const CAP_W = [1209.5, 1223, 1225, 1191, 1212.5, 1182, 1221, 1220, 195];
function capParts(line) {
  return line.map(([t, s]) => s === 'b' ? [t, 15.5, {b: 1}] : s === 'i' ? [t, 15.5, {i: 1}] : s === 's' ? [t, 10, {dy: 4}] : [t, 15.5]);
}
CAPTION.forEach((ln, k) => S(CAP_X, CAP_Y0 + k * CAP_DY, capParts(ln), {f: CAPF, w: CAP_W[k], fill: '#222'}));

chart.setOption({graphic: {elements: G}});
</script></body></html>
